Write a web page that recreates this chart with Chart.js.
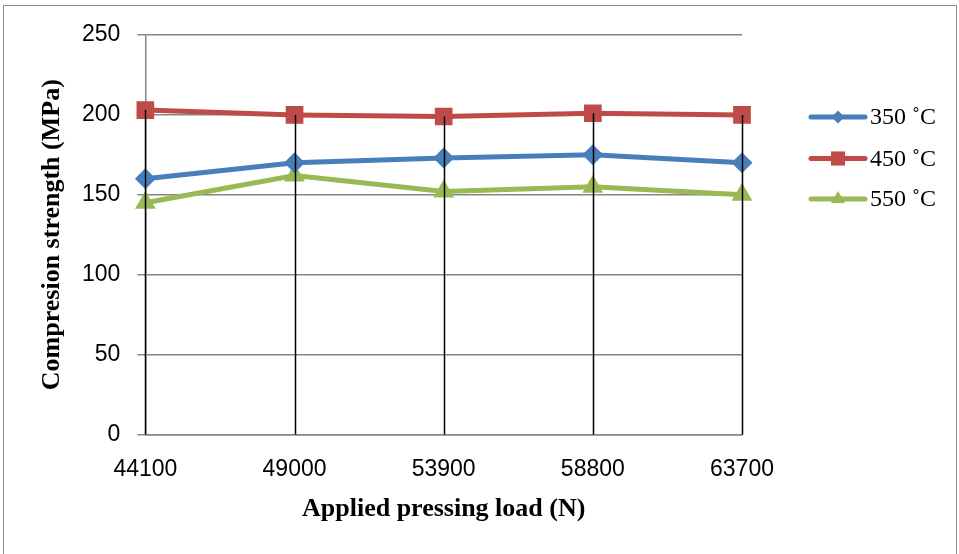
<!DOCTYPE html>
<html>
<head>
<meta charset="utf-8">
<script src="https://cdn.jsdelivr.net/npm/chart.js@4"></script>
<style>
  html, body { margin: 0; padding: 0; background: #fff; }
  #frame { position: absolute; left: 3px; top: 5px; width: 954px; height: 570px; border: 1.5px solid #8c8c8c; box-sizing: border-box; }
  #wrap { position: absolute; left: 0; top: 0; width: 959px; height: 554px; }
</style>
</head>
<body>
<div id="frame"></div>
<div id="wrap"><canvas id="chart"></canvas></div>
<script>
"use strict";

// data
const loads = ["44100", "49000", "53900", "58800", "63700"];
const seriesNames = ["350 \u02daC", "450 \u02daC", "550 \u02daC"];
const strength350 = [160, 170, 173, 175, 170];
const strength450 = [203, 200, 199, 201, 200];
const strength550 = [145, 162, 152, 155, 150];
const yTicks = [0, 50, 100, 150, 200, 250];

const colors = ["#4A7EBB", "#BE4B48", "#98B954"];
const markers = ["rectRot", "rect", "triangle"];
const markerSize = [10.5, 12.5, 12];

const tickFont = { family: "'Liberation Sans', Arial, sans-serif", size: 23 };
const titleFont = { family: "'Liberation Serif', 'Times New Roman', serif", size: 26, weight: "bold", lineHeight: 1 };
const legendFont = "24px 'Liberation Serif', 'Times New Roman', serif";

// black drop lines from the top point of every category down to 0
const dropLines = {
  id: "dropLines",
  afterDatasetsDraw(chart) {
    const ctx = chart.ctx;
    const x = chart.scales.x, y = chart.scales.y;
    ctx.save();
    ctx.strokeStyle = "#000";
    ctx.lineWidth = 1.5;
    loads.forEach((l, i) => {
      const top = Math.max(...chart.data.datasets.map(d => d.data[i]));
      const px = Math.round(x.getPixelForValue(i)) + 0.5;
      ctx.beginPath();
      ctx.moveTo(px, y.getPixelForValue(top));
      ctx.lineTo(px, y.getPixelForValue(0));
      ctx.stroke();
    });
    ctx.restore();
  }
};

// legend: line with marker, then the name, stacked at the right
const sideLegend = {
  id: "sideLegend",
  afterDraw(chart) {
    const ctx = chart.ctx;
    const left = chart.chartArea.right + 69;
    const rows = [117, 158.5, 199];
    ctx.save();
    chart.data.datasets.forEach((d, i) => {
      const cy = rows[i];
      ctx.strokeStyle = d.borderColor;
      ctx.fillStyle = d.borderColor;
      ctx.lineWidth = 5;
      ctx.lineCap = "round";
      ctx.beginPath();
      ctx.moveTo(left, cy);
      ctx.lineTo(left + 54, cy);
      ctx.stroke();
      const r = [6.5, 10, 8][i];
      Chart.helpers.drawPoint(ctx, { pointStyle: d.pointStyle, radius: r, borderWidth: 0, rotation: 0 }, left + 27, cy);
      ctx.fillStyle = "#000";
      ctx.font = legendFont;
      ctx.textBaseline = "middle";
      ctx.fillText(d.label, left + 59, cy + 1);
    });
    ctx.restore();
  }
};

const allSeries = [strength350, strength450, strength550];
const datasets = allSeries.map((vals, i) => ({
  label: seriesNames[i],
  data: vals,
  borderColor: colors[i],
  backgroundColor: colors[i],
  borderWidth: 5,
  pointStyle: markers[i],
  pointRadius: markerSize[i],
  pointHoverRadius: markerSize[i],
  pointBorderWidth: 0,
  tension: 0
}));

new Chart(document.getElementById("chart"), {
  type: "line",
  data: { labels: loads, datasets: datasets },
  plugins: [dropLines, sideLegend],
  options: {
    responsive: true,
    maintainAspectRatio: false,
    animation: false,
    layout: { padding: { left: 35, right: 217, top: 35, bottom: 25 } },
    plugins: {
      tooltip: { enabled: false },
      legend: { display: false }
    },
    scales: {
      x: {
        offset: false,
        grid: { display: false },
        border: { display: true, color: "#868686", width: 1.5 },
        ticks: { color: "#000", font: tickFont, padding: 13, maxRotation: 0 },
        title: { display: true, text: "Applied pressing load (N)", color: "#000", font: titleFont, padding: { top: 0, bottom: 7 } }
      },
      y: {
        min: 0,
        max: 250,
        afterBuildTicks(scale) { scale.ticks = yTicks.map(v => ({ value: v })); },
        grid: { color: "#868686", lineWidth: 1.5, tickLength: 8 },
        border: { display: true, color: "#868686", width: 1.5 },
        ticks: { color: "#000", font: tickFont, padding: 17 },
        title: { display: true, text: "Compresion strength (MPa)", color: "#000", font: titleFont, padding: { top: 4, bottom: 0 } }
      }
    }
  }
});
</script>
</body>
</html>
